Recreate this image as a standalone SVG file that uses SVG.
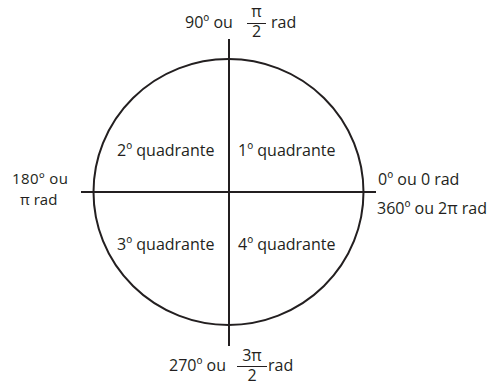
<svg xmlns="http://www.w3.org/2000/svg" width="489" height="385" viewBox="0 0 489 385">
<style>
text{font-family:"Open Sans","Noto Sans",sans-serif;font-size:16px;fill:#231f20}
.l{stroke:#231f20;stroke-width:2;fill:none}
.f{stroke:#231f20;stroke-width:1}
.s{font-size:15px}
</style>
<rect width="489" height="385" fill="#fff"/>
<g id="circle"><ellipse class="l" cx="228.5" cy="192" rx="135" ry="133"/></g>
<g id="connectors">
<line class="l" x1="81" y1="192" x2="376" y2="192"/>
<line class="l" x1="229" y1="39" x2="229" y2="346"/>
</g>
<g id="q1"><text x="238" y="156">1º quadrante</text></g>
<g id="q2"><text x="117" y="156">2º quadrante</text></g>
<g id="q3"><text x="117" y="250">3º quadrante</text></g>
<g id="q4"><text x="238" y="250">4º quadrante</text></g>
<g id="top">
<text x="185" y="28">90º ou</text>
<text x="256.5" y="17" text-anchor="middle" font-size="12">π</text>
<line class="f" x1="247" y1="23.5" x2="266" y2="23.5"/>
<text x="256.5" y="37" text-anchor="middle" font-size="12">2</text>
<text x="271" y="28">rad</text>
</g>
<g id="left">
<text class="s" x="12" y="184" textLength="56" lengthAdjust="spacing">180º ou</text>
<text class="s" x="20" y="205">π rad</text>
</g>
<g id="right">
<text x="378" y="185">0º ou 0 rad</text>
<text x="377" y="214" textLength="110" lengthAdjust="spacing">360º ou 2π rad</text>
</g>
<g id="bottom">
<text x="169" y="371">270º ou</text>
<text x="252" y="361" text-anchor="middle" font-size="12">3π</text>
<line class="f" x1="237" y1="366.5" x2="267" y2="366.5"/>
<text x="252" y="381" text-anchor="middle" font-size="11.5">2</text>
<text x="268" y="371">rad</text>
</g>
</svg>
